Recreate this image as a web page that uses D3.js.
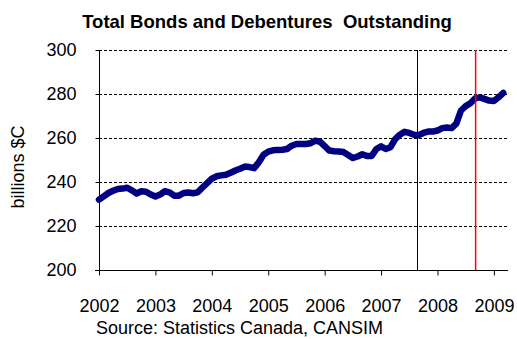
<!DOCTYPE html>
<html>
<head>
<meta charset="utf-8">
<script src="https://cdn.jsdelivr.net/npm/d3@7"></script>
<style>
  html, body { margin: 0; padding: 0; background: #fff; }
  svg { display: block; font-family: "Liberation Sans", Arial, sans-serif; }
</style>
</head>
<body>
<svg id="chart" width="517" height="339"></svg>
<script>
// ---- data ----
const startYear = 2002;              // first month = Jan 2002, monthly series
const values = [
  232.0, 233.5, 235.0, 236.0, 236.8, 237.0, 237.4, 236.2, 234.8, 235.8, 235.6, 234.3,
  233.4, 234.3, 235.8, 235.3, 233.8, 233.8, 235.0, 235.2, 234.9, 235.3, 237.5, 239.5,
  241.5, 242.6, 243.0, 243.3, 244.2, 245.2, 246.0, 247.0, 246.8, 246.3, 249.0, 252.4,
  253.8, 254.4, 254.6, 254.7, 255.0, 256.5, 257.3, 257.3, 257.3, 257.6, 258.8, 258.3,
  256.3, 254.3, 254.0, 253.9, 253.6, 252.3, 250.9, 251.6, 252.6, 251.8, 251.8, 255.0,
  256.2, 255.0, 255.8, 259.5, 261.5, 262.8, 262.3, 261.5, 261.3, 262.3, 262.9, 262.9,
  263.4, 264.5, 264.8, 264.5, 266.5, 272.5, 274.5, 275.8, 278.0, 278.5, 277.8, 277.0,
  276.8, 278.5, 280.5
];
const yearTicks = [2002, 2003, 2004, 2005, 2006, 2007, 2008, 2009];
const yTicks = [200, 220, 240, 260, 280, 300];
const eventDates = [2007.63, 2008.676];   // Aug 2007, Sep 2008
const eventColors = ["#000000", "#ff0000"];
const title = "Total Bonds and Debentures\u00a0 Outstanding";
const yLabel = "billions $C";
const source = "Source: Statistics Canada, CANSIM";

// ---- layout ----
const svg = d3.select("#chart");
const x = d3.scaleLinear().domain([2002, 2009.25]).range([99, 508]);
const y = d3.scaleLinear().domain([200, 300]).range([270, 50]);
const FONT = "'Liberation Sans', Arial, sans-serif";

// gridlines
svg.append("g").selectAll("line")
  .data(yTicks.filter(d => d > 200))
  .join("line")
  .attr("x1", x(2002)).attr("x2", x(2009.25))
  .attr("y1", d => Math.round(y(d)) + 0.5).attr("y2", d => Math.round(y(d)) + 0.5)
  .attr("stroke", "#000").attr("stroke-width", 1)
  .attr("stroke-dasharray", "3,2");

// axes
const yAxis = d3.axisLeft(y).tickValues(yTicks).tickSize(4).tickPadding(19).tickFormat(d3.format("d"));
const gy = svg.append("g").attr("transform", `translate(${x(2002)+0.5},0)`).call(yAxis);
gy.select(".domain").attr("d", `M0,${y(300)}V${y(200)}`);
gy.selectAll("text").attr("font-size", 18).attr("fill", "#000").attr("font-family", FONT);

const xAxis = d3.axisBottom(x).tickValues(yearTicks).tickSize(5).tickPadding(24).tickFormat(d3.format("d"));
const gx = svg.append("g").attr("transform", `translate(0,${y(200)+0.5})`).call(xAxis);
gx.select(".domain").attr("d", `M${x(2002)-4},0H${x(2009.25)}`);
gx.selectAll("text").attr("font-size", 18).attr("fill", "#000").attr("font-family", FONT);

// black event line (behind series)
svg.append("line")
  .attr("x1", Math.round(x(eventDates[0])) + 0.5).attr("x2", Math.round(x(eventDates[0])) + 0.5)
  .attr("y1", y(300)).attr("y2", y(200))
  .attr("stroke", eventColors[0]).attr("stroke-width", 1);

// series
const line = d3.line()
  .x((d, i) => x(startYear + i / 12))
  .y(d => y(d))
  .curve(d3.curveLinear);
svg.append("path")
  .datum(values)
  .attr("d", line)
  .attr("fill", "none")
  .attr("stroke", "#000080")
  .attr("stroke-width", 6.5)
  .attr("stroke-linejoin", "round")
  .attr("stroke-linecap", "round");

// red event line (on top)
svg.append("line")
  .attr("x1", x(eventDates[1])).attr("x2", x(eventDates[1]))
  .attr("y1", y(300)).attr("y2", y(200))
  .attr("stroke", eventColors[1]).attr("stroke-width", 1.5);

// title
svg.append("text")
  .attr("x", 267).attr("y", 28)
  .attr("text-anchor", "middle")
  .attr("font-size", 18.5).attr("font-weight", "bold")
  .text(title);

// y label
svg.append("text")
  .attr("transform", `translate(24,${(y(300)+y(200))/2 + 7}) rotate(-90)`)
  .attr("text-anchor", "middle")
  .attr("font-size", 18)
  .text(yLabel);

// source
svg.append("text")
  .attr("x", 96).attr("y", 334)
  .attr("font-size", 18)
  .text(source);
</script>
</body>
</html>
